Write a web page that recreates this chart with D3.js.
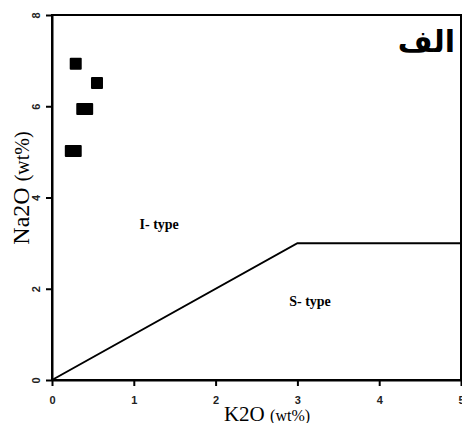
<!DOCTYPE html>
<html>
<head>
<meta charset="utf-8">
<script src="https://cdn.jsdelivr.net/npm/d3@7"></script>
<style>
  body { margin: 0; background: #fff; }
  svg { display: block; }
</style>
</head>
<body>
<svg id="chart" width="462" height="423"></svg>
<script>
const k2o = [0.29, 0.55, 0.37, 0.43, 0.23, 0.29];
const na2o = [6.93, 6.51, 5.94, 5.94, 5.02, 5.02];
const boundaryK2O = [0, 3, 5];
const boundaryNa2O = [0, 3, 3];
const xTicks = [0, 1, 2, 3, 4, 5];
const yTicks = [0, 2, 4, 6, 8];
const regionLabels = ["I- type", "S- type"];
const regionK2O = [1.07, 2.9];
const regionNa2O = [3.3, 1.63];

const svg = d3.select("#chart");
const width = +svg.attr("width");
const height = +svg.attr("height");

const margin = { top: 15, right: 1, bottom: 43, left: 52 };
const innerWidth = width - margin.left - margin.right;
const innerHeight = height - margin.top - margin.bottom;

const g = svg.append("g")
  .attr("transform", `translate(${margin.left}, ${margin.top})`);

const x = d3.scaleLinear().domain([0, 5]).range([0, innerWidth]);
const y = d3.scaleLinear().domain([0, 8]).range([innerHeight, 0]);

// frame
g.append("rect")
  .attr("x", 0).attr("y", 0)
  .attr("width", innerWidth).attr("height", innerHeight)
  .attr("fill", "none")
  .attr("stroke", "#000")
  .attr("stroke-width", 2);

const xAxis = g.append("g")
  .attr("transform", `translate(0, ${innerHeight})`)
  .call(d3.axisBottom(x).tickValues(xTicks).tickFormat(d3.format("d"))
    .tickSize(6).tickSizeOuter(0).tickPadding(10));

const yAxis = g.append("g")
  .call(d3.axisLeft(y).tickValues(yTicks).tickFormat(d3.format("d"))
    .tickSize(6).tickSizeOuter(0).tickPadding(4));

[xAxis, yAxis].forEach(a => {
  a.select(".domain").attr("stroke-width", 2);
  a.selectAll(".tick line").attr("stroke-width", 2);
  a.selectAll("text")
    .attr("font-family", "Liberation Sans, Arial, sans-serif")
    .attr("font-size", "11px")
    .attr("font-weight", "bold")
    .attr("fill", "#222");
});

yAxis.selectAll(".tick text")
  .attr("transform", "rotate(-90)")
  .attr("x", 0)
  .attr("y", -16)
  .attr("dy", "0.35em")
  .attr("text-anchor", "middle");

// I-type / S-type boundary
const line = d3.line()
  .x((d, i) => x(boundaryK2O[i]))
  .y((d, i) => y(boundaryNa2O[i]));

g.append("path")
  .datum(boundaryK2O)
  .attr("d", line)
  .attr("fill", "none")
  .attr("stroke", "#000")
  .attr("stroke-width", 2);

// samples
const pts = k2o.map((d, i) => ({ k: d, n: na2o[i] }));
g.selectAll("rect.pt")
  .data(pts)
  .enter()
  .append("rect")
  .attr("class", "pt")
  .attr("x", d => x(d.k) - 6)
  .attr("y", d => y(d.n) - 6)
  .attr("width", 12)
  .attr("height", 12)
  .attr("rx", 1)
  .attr("fill", "#000");

g.selectAll("text.region")
  .data(regionLabels)
  .enter()
  .append("text")
  .attr("class", "region")
  .attr("x", (d, i) => x(regionK2O[i]))
  .attr("y", (d, i) => y(regionNa2O[i]))
  .attr("font-family", "Liberation Serif, Times New Roman, serif")
  .attr("font-size", "14px")
  .attr("font-weight", "bold")
  .text(d => d);

// axis titles
const xt = svg.append("text")
  .attr("x", 267)
  .attr("y", 421)
  .attr("text-anchor", "middle")
  .attr("font-family", "Liberation Serif, Times New Roman, serif");
xt.append("tspan").attr("font-size", "21px").text("K2O ");
xt.append("tspan").attr("font-size", "16px").text("(wt%)");

const yt = svg.append("text")
  .attr("transform", "translate(29, 188) rotate(-90)")
  .attr("text-anchor", "middle")
  .attr("font-family", "Liberation Serif, Times New Roman, serif");
yt.append("tspan").attr("font-size", "24px").text("Na2O ");
yt.append("tspan").attr("font-size", "20px").text("(wt%)");

svg.append("text")
  .attr("x", 455)
  .attr("y", 52)
  .attr("text-anchor", "end")
  .attr("font-family", "DejaVu Sans, Noto Sans, sans-serif")
  .attr("font-size", "30px")
  .attr("font-weight", "bold")
  .text("الف");
</script>
</body>
</html>
